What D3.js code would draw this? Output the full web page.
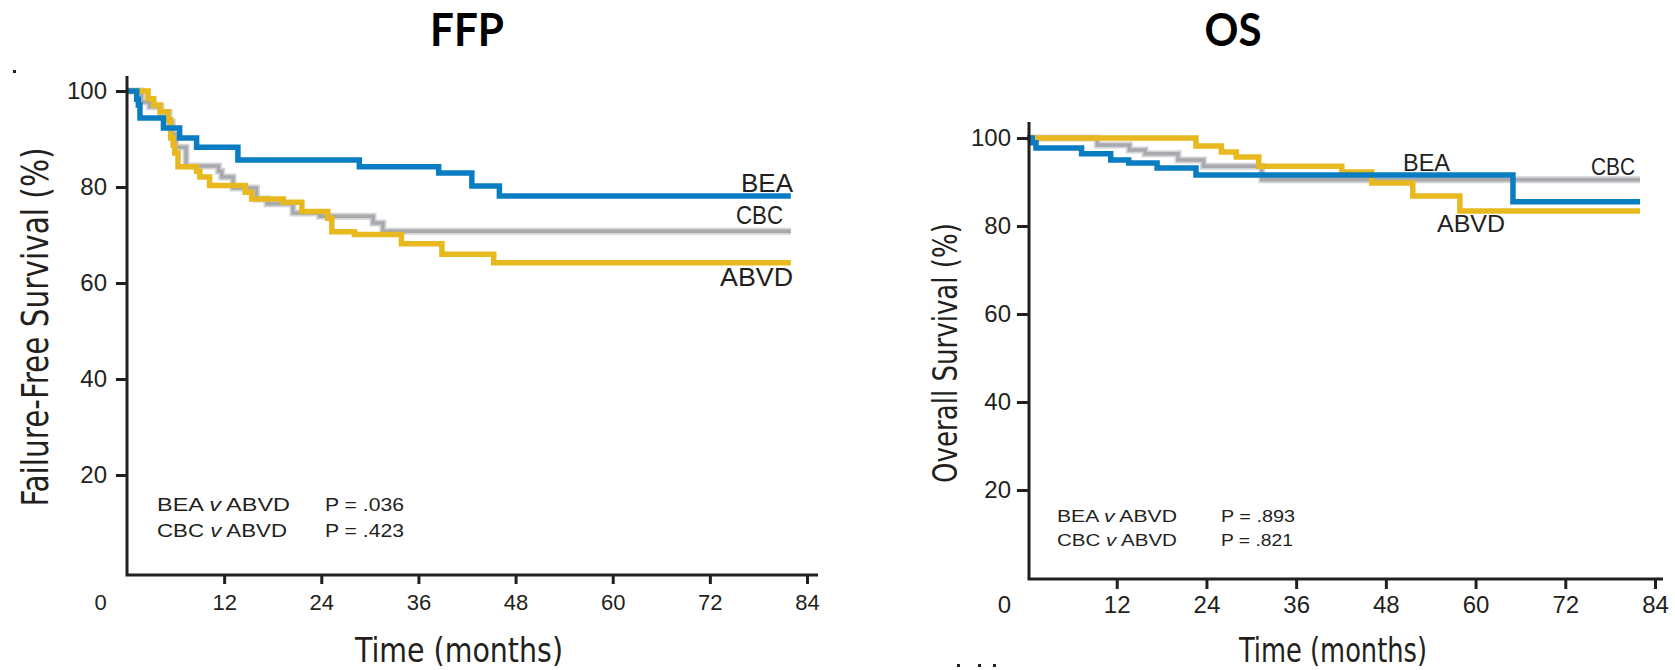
<!DOCTYPE html>
<html>
<head>
<meta charset="utf-8">
<script src="https://cdn.jsdelivr.net/npm/d3@7"></script>
<style>
  body { margin: 0; background: #fff; }
  svg { display: block; }
</style>
</head>
<body>
<svg id="chart" width="1675" height="670"></svg>
<script>
// tick labels
const monthTicks = [0, 12, 24, 36, 48, 60, 72, 84]
const pctTicks = [20, 40, 60, 80, 100]

// failure-free survival, [month, %] at each step
const ffpBEA = [[0,100],[1.2,98.3],[1.4,97.1],[1.6,94.4],[4.5,92.3],[6.5,90.2],[8.6,88.3],[13.7,85.6],[28.7,84.2],[38.5,82.9],[42.6,80.2],[46,78.1],[82,78.1]]
const ffpCBC = [[0,100],[1.8,97.7],[2.8,96.7],[4.2,95.5],[5.2,93.5],[5.6,91.0],[6.0,88.3],[7.3,84.4],[11.3,83.3],[11.7,82.1],[13.1,79.8],[16,77.5],[17.3,76.5],[20.5,74.6],[23.8,73.9],[30.4,72.5],[31.6,70.8],[82,70.8]]
const ffpABVD = [[0,100],[2.6,98.4],[3.3,97.1],[4.1,95.7],[5.1,94.0],[5.4,90.2],[5.7,88.7],[5.9,87.1],[6.3,84.2],[8.6,83.3],[9.0,82.1],[10.2,80.3],[14.6,78.9],[15.4,77.5],[19.3,76.8],[21.6,74.9],[24.8,73.5],[25.3,70.7],[28.1,70.1],[33.9,68.2],[38.9,66.0],[45.3,64.2],[82,64.2]]

// overall survival
const osBEA = [[0,100],[0.7,98.9],[1.2,97.7],[7.3,96.4],[11.2,95.0],[13.6,94.3],[17.4,93.2],[22.6,91.6],[65.0,85.5],[82,85.5]]
const osCBC = [[0,100],[9.4,98.4],[13.7,97.3],[15.8,96.4],[20.2,95.0],[23.6,93.6],[31.4,90.5],[82,90.5]]
const osABVD = [[0,100],[22.6,98.2],[26.0,96.8],[28.0,95.7],[31.0,93.6],[42.1,92.3],[46.1,89.8],[51.6,86.8],[57.9,83.4],[82,83.4]]

const comparisons = ["BEA v ABVD", "CBC v ABVD"]
const ffpP = ["P = .036", "P = .423"]
const osP = ["P = .893", "P = .821"]

const colors = { BEA: "#0a7dc2", CBC: "#a7a9ac", ABVD: "#e7b91e" }
const ink = "#231f20"
const tickFont = "'Liberation Sans', Arial, sans-serif"
const narrowFont = "'Liberation Sans Narrow', 'DejaVu Sans Condensed', 'Liberation Sans', sans-serif"

const svg = d3.select("#chart")

function fit(sel, w) {
  return sel.attr("textLength", w).attr("lengthAdjust", "spacingAndGlyphs")
}

const panels = [
  {
    title: "FFP", titleX: 467, titleW: 74,
    series: { CBC: ffpCBC, ABVD: ffpABVD, BEA: ffpBEA },
    pvals: ffpP,
    left: 127, right: 807, bottom: 571, top: 91,
    axisX: 127, axisY: 575, axisTop: 76, axisRight: 818,
    xTick: 9, xPad: 10, xFont: 22, zeroShift: -27,
    yTick: 11, yPad: 9, yFont: 24,
    yTitle: "Failure-Free Survival (%)", yTitleX: 48, yTitleMid: 327, yTitleLen: 359, yTitleSize: 38,
    xTitleMid: 459, xTitleLen: 208, xTitleBase: 662, xTitleSize: 34,
    statX: 157, pX: 325, statBase: [511, 537], statW: [133, 130], pW: [79, 79], statSize: 19,
    labels: [
      { name: "BEA", x: 793, y: 192, w: 52, anchor: "end" },
      { name: "CBC", x: 783, y: 224, w: 47, anchor: "end" },
      { name: "ABVD", x: 793, y: 286, w: 73, anchor: "end" }
    ], labelSize: 26
  },
  {
    title: "OS", titleX: 1233, titleW: 57,
    series: { CBC: osCBC, ABVD: osABVD, BEA: osBEA },
    pvals: osP,
    left: 1027, right: 1655, bottom: 578, top: 138,
    axisX: 1029, axisY: 579, axisTop: 122, axisRight: 1663,
    xTick: 10, xPad: 7, xFont: 24, zeroShift: -23,
    yTick: 12, yPad: 6, yFont: 24,
    yTitle: "Overall Survival (%)", yTitleX: 957, yTitleMid: 353, yTitleLen: 260, yTitleSize: 34,
    xTitleMid: 1333, xTitleLen: 188, xTitleBase: 662, xTitleSize: 33,
    statX: 1057, pX: 1221, statBase: [522, 546], statW: [120, 120], pW: [74, 72], statSize: 17,
    labels: [
      { name: "BEA", x: 1403, y: 171, w: 47, anchor: "start" },
      { name: "CBC", x: 1591, y: 175, w: 44, anchor: "start" },
      { name: "ABVD", x: 1437, y: 232, w: 68, anchor: "start" }
    ], labelSize: 23
  }
]

function drawPanel(p) {
  const x = d3.scaleLinear().domain([0, 84]).range([p.left, p.right])
  const y = d3.scaleLinear().domain([0, 100]).range([p.bottom, p.top])
  const g = svg.append("g")

  // title
  fit(g.append("text")
    .attr("x", p.titleX).attr("y", 46)
    .attr("text-anchor", "middle")
    .style("font-family", "Lato, 'Open Sans', sans-serif")
    .style("font-weight", 700)
    .style("font-size", "45px")
    .style("fill", "#000")
    .text(p.title), p.titleW)

  // curves
  const line = d3.line()
    .x(d => x(d[0]))
    .y(d => y(d[1]))
    .curve(d3.curveStepAfter)

  Object.keys(p.series).forEach(k => {
    if (k === "CBC") {
      g.append("path").datum(p.series[k])
        .attr("d", line).attr("fill", "none")
        .attr("stroke", "#d2d3d5").attr("stroke-width", 7)
    }
    g.append("path").datum(p.series[k])
      .attr("d", line)
      .attr("fill", "none")
      .attr("stroke", colors[k])
      .attr("stroke-width", k === "CBC" ? 3.5 : 5.5)
  })

  // x ticks
  const xAxis = d3.axisBottom(x)
    .tickValues(monthTicks)
    .tickSize(p.xTick)
    .tickPadding(p.xPad)
    .tickSizeOuter(0)
  const gx = g.append("g").attr("transform", `translate(0,${p.axisY})`).call(xAxis)
  gx.select(".domain").remove()
  gx.selectAll(".tick line").attr("stroke", ink).attr("stroke-width", 3)
  gx.selectAll(".tick text")
    .style("font-family", tickFont).style("font-size", p.xFont + "px").attr("fill", ink)
  gx.selectAll(".tick").filter(d => d === 0).select("line").remove()
  gx.selectAll(".tick").filter(d => d === 0).select("text").attr("x", p.zeroShift)

  // y ticks
  const yAxis = d3.axisLeft(y)
    .tickValues(pctTicks)
    .tickSize(p.yTick)
    .tickPadding(p.yPad)
    .tickSizeOuter(0)
  const gy = g.append("g").attr("transform", `translate(${p.axisX},0)`).call(yAxis)
  gy.select(".domain").remove()
  gy.selectAll(".tick line").attr("stroke", ink).attr("stroke-width", 3)
  gy.selectAll(".tick text")
    .style("font-family", tickFont).style("font-size", p.yFont + "px").attr("fill", ink)

  // axis lines
  g.append("path")
    .attr("d", `M${p.axisX},${p.axisTop}V${p.axisY}H${p.axisRight}`)
    .attr("fill", "none").attr("stroke", ink).attr("stroke-width", 3)

  // axis titles
  fit(g.append("text")
    .attr("x", p.xTitleMid).attr("y", p.xTitleBase)
    .attr("text-anchor", "middle")
    .style("font-family", narrowFont).style("font-size", p.xTitleSize + "px")
    .attr("fill", ink)
    .text("Time (months)"), p.xTitleLen)

  fit(g.append("text")
    .attr("transform", `translate(${p.yTitleX},${p.yTitleMid}) rotate(-90)`)
    .attr("text-anchor", "middle")
    .style("font-family", narrowFont).style("font-size", p.yTitleSize + "px")
    .attr("fill", ink)
    .text(p.yTitle), p.yTitleLen)

  // curve labels
  p.labels.forEach(l => {
    fit(g.append("text")
      .attr("x", l.x).attr("y", l.y)
      .attr("text-anchor", l.anchor)
      .style("font-family", tickFont).style("font-size", p.labelSize + "px")
      .attr("fill", ink)
      .text(l.name), l.w)
  })

  // p-values
  comparisons.forEach((c, i) => {
    const t = g.append("text")
      .attr("x", p.statX).attr("y", p.statBase[i])
      .style("font-family", tickFont).style("font-size", p.statSize + "px")
      .attr("fill", ink)
    const parts = c.split(" v ")
    t.append("tspan").text(parts[0] + " ")
    t.append("tspan").style("font-style", "italic").text("v")
    t.append("tspan").text(" " + parts[1])
    fit(t, p.statW[i])
    fit(g.append("text")
      .attr("x", p.pX).attr("y", p.statBase[i])
      .style("font-family", tickFont).style("font-size", p.statSize + "px")
      .attr("fill", ink)
      .text(p.pvals[i]), p.pW[i])
  })
}

panels.forEach(drawPanel)

// stray specks in the scan
svg.append("rect").attr("x", 13).attr("y", 70).attr("width", 3).attr("height", 3).attr("fill", ink)
;[957, 978, 993].forEach(cx => {
  svg.append("rect").attr("x", cx).attr("y", 664).attr("width", 3).attr("height", 3).attr("fill", ink)
})
</script>
</body>
</html>
